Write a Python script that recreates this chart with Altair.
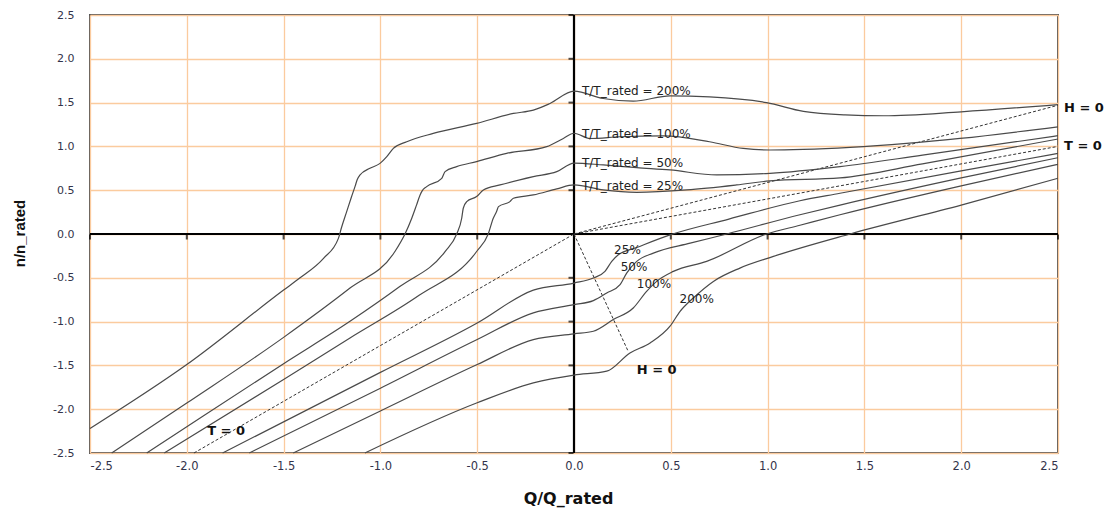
import altair as alt
import pandas as pd

# ---------------- data ----------------
ticks = [-2.5, -2.0, -1.5, -1.0, -0.5, 0.0, 0.5, 1.0, 1.5, 2.0, 2.5]

up200_x = [-2.5, -2.0, -1.5, -1.415, -1.295, -1.217, -1.2, -1.175, -1.15, -1.13, -1.12, -1.105, -1.054, -1.002, -0.967, -0.933, -0.864, -0.727, -0.503, -0.313, -0.21, -0.124, 0.0, 0.151, 0.306, 0.496, 0.70, 0.995, 1.185, 1.40, 1.6, 2.0, 2.5]
up200_y = [-2.22, -1.49, -0.64, -0.50, -0.28, -0.05, 0.08, 0.25, 0.42, 0.55, 0.62, 0.674, 0.75, 0.806, 0.883, 0.977, 1.053, 1.148, 1.262, 1.376, 1.414, 1.49, 1.63, 1.547, 1.517, 1.577, 1.566, 1.50, 1.40, 1.36, 1.35, 1.395, 1.478]

up100_x = [-2.388, -2.0, -1.5, -1.157, -0.925, -0.873, -0.838, -0.813, -0.795, -0.785, -0.761, -0.683, -0.666, -0.606, -0.503, -0.348, -0.141, -0.055, 0.0, 0.083, 0.238, 0.461, 0.70, 0.874, 1.012, 1.185, 1.426, 1.718, 1.994, 2.5]
up100_y = [-2.5, -1.93, -1.18, -0.617, -0.2, 0.0, 0.18, 0.333, 0.446, 0.49, 0.541, 0.636, 0.712, 0.769, 0.826, 0.92, 0.997, 1.091, 1.15, 1.09, 1.11, 1.12, 1.053, 0.977, 0.959, 0.966, 0.989, 1.034, 1.091, 1.224]

up50_x = [-2.207, -2.0, -1.5, -1.157, -0.9, -0.666, -0.606, -0.58, -0.572, -0.554, -0.503, -0.468, -0.382, -0.21, -0.089, 0.0, 0.151, 0.324, 0.496, 0.737, 1.012, 1.374, 1.8, 2.5]
up50_y = [-2.5, -2.2, -1.48, -0.997, -0.6, -0.2, 0.0, 0.18, 0.294, 0.37, 0.427, 0.503, 0.56, 0.655, 0.712, 0.81, 0.788, 0.757, 0.731, 0.674, 0.693, 0.77, 0.9, 1.122]

up25_x = [-2.116, -1.5, -1.157, -0.8, -0.503, -0.443, -0.417, -0.4, -0.39, -0.331, -0.313, -0.21, -0.089, 0.0, 0.151, 0.324, 0.582, 0.84, 1.012, 1.374, 1.8, 2.5]
up25_y = [-2.5, -1.66, -1.187, -0.7, -0.2, 0.0, 0.18, 0.256, 0.313, 0.37, 0.408, 0.446, 0.515, 0.56, 0.503, 0.476, 0.503, 0.56, 0.606, 0.64, 0.8, 1.084]

lo25_x = [-1.815, -1.0, -0.5, -0.21, 0.0, 0.1, 0.16, 0.195, 0.229, 0.324, 0.496, 0.8, 1.167, 1.374, 2.0, 2.5]
lo25_y = [-2.5, -1.58, -1.016, -0.64, -0.56, -0.503, -0.427, -0.313, -0.237, -0.154, -0.01, 0.17, 0.38, 0.465, 0.72, 0.92]

lo50_x = [-1.677, -1.0, -0.5, -0.21, 0.0, 0.1, 0.169, 0.238, 0.272, 0.324, 0.41, 0.6, 0.789, 1.167, 1.374, 2.0, 2.5]
lo50_y = [-2.5, -1.76, -1.205, -0.9, -0.806, -0.76, -0.674, -0.579, -0.446, -0.313, -0.218, -0.105, 0.0, 0.22, 0.33, 0.64, 0.871]

lo100_x = [-1.45, -1.0, -0.5, -0.21, 0.0, 0.1, 0.203, 0.306, 0.375, 0.427, 0.513, 0.685, 0.995, 1.167, 1.374, 2.0, 2.5]
lo100_y = [-2.5, -2.02, -1.49, -1.205, -1.14, -1.11, -0.977, -0.845, -0.655, -0.541, -0.427, -0.313, 0.0, 0.1, 0.22, 0.55, 0.795]

lo200_x = [-1.08, -0.5, -0.21, 0.0, 0.169, 0.289, 0.393, 0.496, 0.548, 0.616, 0.72, 0.857, 1.03, 1.426, 2.0, 2.5]
lo200_y = [-2.5, -1.927, -1.70, -1.61, -1.566, -1.358, -1.244, -1.053, -0.883, -0.731, -0.541, -0.389, -0.256, 0.0, 0.33, 0.636]

# dashed reference lines (T = 0 and H = 0)
t0_x = [-1.963, 0.0, 2.5]
t0_y = [-2.5, 0.0, 1.0]
h0a_x = [0.0, 0.28]
h0a_y = [0.0, -1.34]
h0b_x = [0.0, 2.5]
h0b_y = [0.0, 1.47]

# curve labels
top_text = ["T/T_rated = 200%", "T/T_rated = 100%", "T/T_rated = 50%", "T/T_rated = 25%"]
top_x = [0.0, 0.0, 0.0, 0.0]
top_y = [1.634, 1.141, 0.814, 0.549]

pct_text = ["25%", "50%", "100%", "200%"]
pct_x = [0.276, 0.31, 0.413, 0.634]
pct_y = [-0.18, -0.38, -0.567, -0.743]

bold_text = ["H = 0", "T = 0"]
bold_x = [0.427, -1.797]
bold_y = [-1.558, -2.25]

edge_text = ["H = 0", "T = 0"]
edge_x = [2.5, 2.5]
edge_y = [1.433, 1.005]

# ---------------- tables ----------------
def table(series):
    rows = []
    for name, xs, ys in series:
        for i, (a, b) in enumerate(zip(xs, ys)):
            rows.append({"series": name, "x": a, "y": b, "i": i})
    return pd.DataFrame(rows)

curves_df = table([
    ("up200", up200_x, up200_y), ("up100", up100_x, up100_y),
    ("up50", up50_x, up50_y), ("up25", up25_x, up25_y),
    ("lo25", lo25_x, lo25_y), ("lo50", lo50_x, lo50_y),
    ("lo100", lo100_x, lo100_y), ("lo200", lo200_x, lo200_y),
])
dash_df = table([("t0", t0_x, t0_y), ("h0a", h0a_x, h0a_y), ("h0b", h0b_x, h0b_y)])

top_df = pd.DataFrame({"x": top_x, "y": top_y, "t": top_text})
pct_df = pd.DataFrame({"x": pct_x, "y": pct_y, "t": pct_text})
bold_df = pd.DataFrame({"x": bold_x, "y": bold_y, "t": bold_text})
edge_df = pd.DataFrame({"x": edge_x, "y": edge_y, "t": edge_text})
xt_df = pd.DataFrame({"x": ticks, "y": [0.0] * len(ticks)})
yt_df = pd.DataFrame({"x": [0.0] * len(ticks), "y": ticks})
zero_df = pd.DataFrame({"x": [0.0], "y": [0.0]})

# ---------------- encodings ----------------
sc = alt.Scale(domain=[-2.5, 2.5], nice=False, zero=False)
lab = "replace(format(datum.value, '.1f'), '\u2212', '-')"

X = alt.X("x:Q", scale=sc, axis=alt.Axis(
    values=ticks, labelExpr=lab, title="Q/Q_rated", grid=True, ticks=False, tickSize=0,
    domain=False, labelPadding=7, labelFont="DejaVu Sans", labelFontSize=11.5,
    labelColor="#33334a", titleFont="DejaVu Sans", titleFontSize=16, titleFontWeight="bold",
    titleColor="#111", titleX=478, titleY=45, titleBaseline="middle"))
Y = alt.Y("y:Q", scale=sc, axis=alt.Axis(
    values=ticks, labelExpr=lab, title="n/n_rated", grid=True, ticks=False, tickSize=0,
    domain=False, labelPadding=16, labelFont="DejaVu Sans", labelFontSize=11,
    labelColor="#33334a", titleFont="Liberation Sans", titleFontSize=15, titleFontWeight="bold",
    titleColor="#111", titleX=-71, titleY=218, titleAngle=270, titleBaseline="middle",
    titleAlign="center"))

curves = alt.Chart(curves_df).mark_line(color="#4a4a4a", strokeWidth=1.2, interpolate="monotone").encode(
    x=X, y=Y, detail="series:N", order="i:Q")
dashes = alt.Chart(dash_df).mark_line(color="#333", strokeWidth=1, strokeDash=[3, 2]).encode(
    x=X, y=Y, detail="series:N", order="i:Q")
vzero = alt.Chart(zero_df).mark_rule(color="black", strokeWidth=2.2).encode(x=X)
hzero = alt.Chart(zero_df).mark_rule(color="black", strokeWidth=2.2).encode(y=Y)
xticks = alt.Chart(xt_df).mark_tick(orient="vertical", color="black", size=5, thickness=2, yOffset=3).encode(x=X, y=Y)
yticks = alt.Chart(yt_df).mark_tick(orient="horizontal", color="black", size=5, thickness=2, xOffset=-3).encode(x=X, y=Y)

top_lbl = alt.Chart(top_df).mark_text(align="left", baseline="middle", dx=8, font="DejaVu Sans",
                                      fontSize=12, color="#222").encode(x=X, y=Y, text="t:N")
pct_lbl = alt.Chart(pct_df).mark_text(align="center", baseline="middle", font="DejaVu Sans",
                                      fontSize=12, color="#222").encode(x=X, y=Y, text="t:N")
bold_lbl = alt.Chart(bold_df).mark_text(align="center", baseline="middle", font="DejaVu Sans",
                                        fontSize=13, fontWeight="bold", color="#111").encode(x=X, y=Y, text="t:N")
edge_lbl = alt.Chart(edge_df).mark_text(align="left", baseline="middle", dx=6, font="DejaVu Sans",
                                        fontSize=13, fontWeight="bold", color="#111").encode(x=X, y=Y, text="t:N")

chart = alt.layer(vzero, hzero, xticks, yticks, dashes, curves, top_lbl, pct_lbl, bold_lbl, edge_lbl).properties(
    width=968, height=438,
    padding={"left": 82, "top": 7, "right": 47, "bottom": 58},
    autosize=alt.AutoSizeParams(type="none"),
    background="white",
).configure_view(stroke="#555", strokeWidth=2).configure_axis(
    gridColor="#FBCB9E", gridWidth=1.3, gridOpacity=1)

chart.save("out.html", embed_options={"renderer": "svg", "actions": False})
